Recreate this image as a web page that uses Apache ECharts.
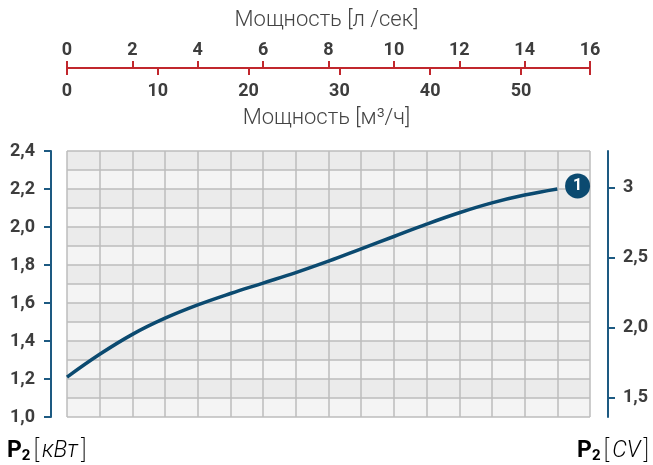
<!DOCTYPE html>
<html>
<head>
<meta charset="utf-8">
<script src="https://cdn.jsdelivr.net/npm/echarts@6/dist/echarts.min.js"></script>
<style>
html,body{margin:0;padding:0;background:#fff;}
#chart{width:653px;height:465px;}
</style>
</head>
<body>
<div id="chart"></div>
<script>
// Flow in l/s (x) and power P2 in kW (y)
const flowLs = [0, 1, 2, 3, 4, 5, 6, 7, 8, 9, 10, 11, 12, 13, 14, 15];
const powerKw = [1.21, 1.33, 1.435, 1.52, 1.59, 1.65, 1.705, 1.76, 1.82, 1.885, 1.95, 2.015, 2.075, 2.127, 2.168, 2.20];
const curveMarker = [15.62, 2.216];
const curveLabel = '1';
const lsTicks = [0, 2, 4, 6, 8, 10, 12, 14, 16];
const m3hLabels = [0, 10, 20, 30, 40, 50];
const cvLabels = [1.5, 2, 2.5, 3];
const KW_PER_CV = 0.7355;
const LS_TO_M3H = 3.6;
const X_MIN = 0, X_MAX = 16;
const Y_MIN = 1.0, Y_MAX = 2.4;

const chart = echarts.init(document.getElementById('chart'), null, {renderer: 'canvas'});
const labelFont = {color: '#3d3d3d', fontFamily: 'Roboto', fontWeight: 'bold', fontSize: 18};
const blue = '#1d5a82';
const red = '#c1272d';
const gridLine = {show: true, lineStyle: {color: '#bcbcbc', width: 1.5}};

const unitRich = {
  p: {fontFamily: 'Roboto', fontWeight: 'bold', fontSize: 23, color: '#3d3d3d'},
  s: {fontFamily: 'Roboto', fontWeight: 'bold', fontSize: 15, color: '#3d3d3d', padding: [9, 0, 0, 0]},
  b: {fontFamily: 'Roboto', fontWeight: 200, fontSize: 25, color: '#3d3d3d', padding: [0, 3, 0, 3]},
  u: {fontFamily: 'Roboto', fontWeight: 300, fontStyle: 'italic', fontSize: 23, color: '#3d3d3d'}
};

const option = {
  animation: false,
  grid: {left: 67, right: 63, top: 151, bottom: 48, containLabel: false},
  xAxis: [
    {
      type: 'value', position: 'bottom', min: X_MIN, max: X_MAX, interval: 1,
      axisLine: {show: false, onZero: false}, axisTick: {show: false}, axisLabel: {show: false},
      splitLine: gridLine
    },
    {
      type: 'value', position: 'top', offset: 83, min: X_MIN, max: X_MAX, interval: 2,
      axisLine: {show: true, onZero: false, lineStyle: {color: red, width: 2}},
      axisTick: {show: true, length: 7, lineStyle: {color: red, width: 2}, customValues: lsTicks},
      axisLabel: Object.assign({margin: 9, customValues: lsTicks}, labelFont),
      splitLine: {show: false}
    },
    {
      type: 'value', position: 'top', offset: 83, min: X_MIN * LS_TO_M3H, max: X_MAX * LS_TO_M3H,
      axisLine: {show: false, onZero: false},
      axisTick: {show: true, inside: true, length: 7, lineStyle: {color: red, width: 2},
                 customValues: m3hLabels.concat([X_MAX * LS_TO_M3H])},
      axisLabel: Object.assign({inside: true, margin: 14, customValues: m3hLabels}, labelFont),
      splitLine: {show: false}
    }
  ],
  yAxis: [
    {
      type: 'value', position: 'left', min: Y_MIN, max: Y_MAX, interval: 0.1,
      axisLine: {show: false, onZero: false}, axisTick: {show: false}, axisLabel: {show: false},
      splitLine: gridLine,
      splitArea: {show: true, areaStyle: {color: ['#f4f4f4', '#ebebeb']}}
    },
    {
      type: 'value', position: 'left', offset: 16, min: Y_MIN, max: Y_MAX, interval: 0.2,
      axisLine: {show: true, onZero: false, lineStyle: {color: blue, width: 2}},
      axisTick: {show: true, length: 7, lineStyle: {color: blue, width: 2}},
      axisLabel: Object.assign({margin: 16, formatter: v => v.toFixed(1).replace('.', ',')}, labelFont),
      splitLine: {show: false}
    },
    {
      type: 'value', position: 'right', offset: 18, min: Y_MIN / KW_PER_CV, max: Y_MAX / KW_PER_CV,
      axisLine: {show: true, onZero: false, lineStyle: {color: blue, width: 2}},
      axisTick: {show: true, length: 7, lineStyle: {color: blue, width: 2}, customValues: cvLabels},
      axisLabel: Object.assign({margin: 15, customValues: cvLabels,
        formatter: v => (v >= 3) ? String(Math.round(v)) : v.toFixed(1).replace('.', ',')}, labelFont),
      splitLine: {show: false}
    }
  ],
  series: [
    {
      type: 'line', xAxisIndex: 0, yAxisIndex: 0, smooth: 0.4, showSymbol: false,
      data: flowLs.map((x, i) => [x, powerKw[i]]),
      lineStyle: {color: '#0b4a70', width: 3.5}
    },
    {
      type: 'scatter', xAxisIndex: 0, yAxisIndex: 0, symbolSize: 25,
      data: [curveMarker],
      itemStyle: {color: '#0b4a70', opacity: 1},
      label: {show: true, position: 'inside', formatter: curveLabel, color: '#fff',
              fontFamily: 'Roboto', fontWeight: 'bold', fontSize: 16}
    }
  ],
  graphic: [
    {type: 'text', left: 'center', top: 9,
     style: {text: 'Мощность [л /сек]', font: '300 22px Roboto', fill: '#444'}},
    {type: 'text', left: 'center', top: 107,
     style: {text: 'Мощность [м³/ч]', font: '300 22px Roboto', fill: '#444'}},
    {type: 'text', left: 7, top: 439,
     style: {text: '{p|P}{s|2}{b|[}{u|кВт}{b|]}', rich: unitRich}},
    {type: 'text', right: 4, top: 439,
     style: {text: '{p|P}{s|2}{b|[}{u|CV}{b|]}', rich: unitRich}}
  ]
};
chart.setOption(option);
</script>
</body>
</html>
